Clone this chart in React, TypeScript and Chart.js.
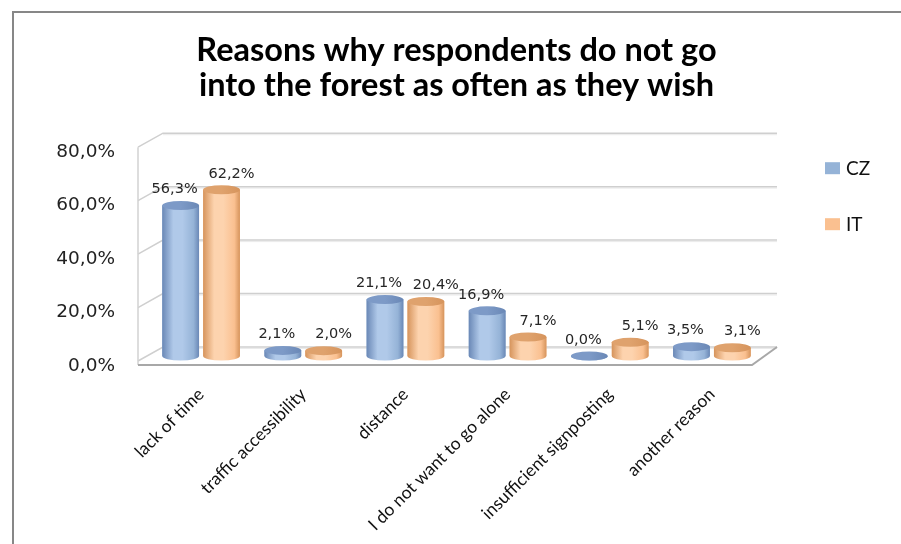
import React, { useEffect, useRef } from 'react';
import { Chart, registerables } from 'chart.js';

Chart.register(...registerables);

const titleLines = ['Reasons why respondents do not go', 'into the forest as often as they wish'];
const categories = [
  'lack of time',
  'traffic accessibility',
  'distance',
  'I do not want to go alone',
  'insufficient signposting',
  'another reason',
];
const seriesNames = ['CZ', 'IT'];
const czValues = [56.3, 2.1, 21.1, 16.9, 0.0, 3.5];
const itValues = [62.2, 2.0, 20.4, 7.1, 5.1, 3.1];
const yMin = 0;
const yMax = 80;
const yStep = 20;

const palette = [
  { base: '#95b3d7', light: '#b0c9e9', dark: '#6a88b6', top: '#7d9ac7' },
  { base: '#fac090', light: '#fdd3ae', dark: '#d6945c', top: '#dfa26d' },
];

const fmt = (v: number) => v.toFixed(1).replace('.', ',') + '%';

const outerFrame = {
  id: 'outerFrame',
  beforeDraw(chart: any) {
    const { ctx, width, height } = chart;
    ctx.save();
    ctx.fillStyle = '#ffffff';
    ctx.fillRect(0, 0, width, height);
    ctx.strokeStyle = '#878787';
    ctx.lineWidth = 2;
    ctx.beginPath();
    ctx.moveTo(13, height + 5);
    ctx.lineTo(13, 12);
    ctx.lineTo(width + 5, 12);
    ctx.stroke();
    ctx.restore();
  },
};

const frame3d = {
  id: 'frame3d',
  beforeDatasetsDraw(chart: any) {
    const { ctx, chartArea: ca, scales } = chart;
    const ys = scales.y;
    const backL = ca.left + 13;
    const backR = ca.right + 14;
    const frontL = ca.left - 12;
    const depthDy = 14;
    ctx.save();
    const ticks = ys.ticks.map((t: any) => t.value);
    ticks.forEach((v: number) => {
      const yb = ys.getPixelForValue(v) - 9;
      ctx.strokeStyle = '#ebebeb';
      ctx.lineWidth = 1;
      ctx.beginPath();
      ctx.moveTo(backL, yb + 1.5);
      ctx.lineTo(backR, yb + 1.5);
      ctx.stroke();
      ctx.strokeStyle = '#cfcfcf';
      ctx.lineWidth = 1.5;
      ctx.beginPath();
      ctx.moveTo(frontL, yb + depthDy);
      ctx.lineTo(backL, yb);
      ctx.lineTo(backR, yb);
      ctx.stroke();
    });
    const yTop = ys.getPixelForValue(yMax) - 9 + depthDy;
    const yFloorFront = ca.bottom + 9;
    ctx.strokeStyle = '#d2d2d2';
    ctx.lineWidth = 1.5;
    ctx.beginPath();
    ctx.moveTo(frontL, yTop);
    ctx.lineTo(frontL, yFloorFront);
    ctx.stroke();
    const yBack0 = ys.getPixelForValue(0) - 9;
    ctx.strokeStyle = '#a8a8a8';
    ctx.lineWidth = 2;
    ctx.beginPath();
    ctx.moveTo(frontL, yFloorFront);
    ctx.lineTo(ca.right - 11, yFloorFront);
    ctx.lineTo(backR, yBack0);
    ctx.stroke();
    ctx.restore();
  },
};

const cylinders = {
  id: 'cylinders',
  afterDatasetsDraw(chart: any) {
    const { ctx } = chart;
    const ry = 4.5;
    ctx.save();
    chart.data.datasets.forEach((_ds: any, di: number) => {
      const meta = chart.getDatasetMeta(di);
      const c = palette[di];
      meta.data.forEach((el: any) => {
        const { x, y, base, width } = el.getProps(['x', 'y', 'base', 'width'], true);
        const l = x - width / 2;
        const r = x + width / 2;
        const g = ctx.createLinearGradient(l, 0, r, 0);
        g.addColorStop(0, c.dark);
        g.addColorStop(0.3, c.light);
        g.addColorStop(0.55, c.light);
        g.addColorStop(0.85, c.base);
        g.addColorStop(1, c.dark);
        ctx.fillStyle = g;
        ctx.beginPath();
        ctx.moveTo(l, y);
        ctx.lineTo(l, base);
        ctx.ellipse(x, base, width / 2, ry, 0, Math.PI, 0, true);
        ctx.lineTo(r, y);
        ctx.closePath();
        ctx.fill();
        const gt = ctx.createLinearGradient(l, 0, r, 0);
        gt.addColorStop(0, c.top);
        gt.addColorStop(0.5, c.top);
        gt.addColorStop(1, c.dark);
        ctx.fillStyle = gt;
        ctx.beginPath();
        ctx.ellipse(x, y, width / 2, ry, 0, 0, Math.PI * 2);
        ctx.fill();
      });
    });
    ctx.font = '14.5px "DejaVu Sans"';
    ctx.fillStyle = '#262626';
    ctx.textAlign = 'center';
    ctx.textBaseline = 'middle';
    chart.data.datasets.forEach((ds: any, di: number) => {
      const meta = chart.getDatasetMeta(di);
      meta.data.forEach((el: any, i: number) => {
        const { x, y } = el.getProps(['x', 'y'], true);
        const dx = di === 0 ? -6 : 10;
        ctx.fillText(fmt(ds.data[i]), x + dx, y - 16);
      });
    });
    ctx.restore();
  },
};

const sideLegend = {
  id: 'sideLegend',
  afterDraw(chart: any) {
    const { ctx, chartArea: ca } = chart;
    ctx.save();
    ctx.font = '19px Lato';
    ctx.textBaseline = 'middle';
    ctx.textAlign = 'left';
    chart.data.datasets.forEach((ds: any, i: number) => {
      const bx = ca.right + 62;
      const by = ca.top + 20 + i * 56;
      ctx.fillStyle = ds.backgroundColor;
      ctx.fillRect(bx, by, 15, 12);
      ctx.fillStyle = '#111';
      ctx.fillText(ds.label, bx + 21, by + 6.5);
    });
    ctx.restore();
  },
};

export default function App() {
  const ref = useRef<HTMLCanvasElement | null>(null);
  useEffect(() => {
    if (!ref.current) return;
    const chart = new Chart(ref.current, {
      type: 'bar',
      data: {
        labels: categories,
        datasets: [
          { label: seriesNames[0], data: czValues, backgroundColor: palette[0].base, borderWidth: 0 },
          { label: seriesNames[1], data: itValues, backgroundColor: palette[1].base, borderWidth: 0 },
        ],
      },
      options: {
        animation: false,
        responsive: false,
        devicePixelRatio: 1,
        layout: { padding: { left: 0, right: 138, top: 0, bottom: 0 } },
        plugins: {
          legend: { display: false },
          tooltip: { enabled: false },
          title: {
            display: true,
            text: titleLines,
            fullSize: false,
            color: '#000',
            font: { family: 'Lato', weight: 'bold', size: 32.5, lineHeight: 1.08 },
            padding: { top: 33, bottom: 39 },
          },
        },
        scales: {
          x: {
            grid: { display: false, drawTicks: false },
            border: { display: false },
            categoryPercentage: 0.58,
            barPercentage: 1,
            ticks: {
              maxRotation: 45,
              minRotation: 45,
              autoSkip: false,
              padding: 28,
              color: '#111',
              font: { family: 'Lato', size: 17.5 },
            },
            afterFit: (s: any) => {
              s.height = 188;
            },
          },
          y: {
            min: yMin,
            max: yMax,
            grid: { display: false, drawTicks: false },
            border: { display: false },
            ticks: {
              stepSize: yStep,
              padding: 35,
              labelOffset: 10,
              color: '#222',
              font: { family: 'DejaVu Sans', size: 18.5 },
              callback: (v: any) => fmt(Number(v)),
            },
            afterFit: (s: any) => {
              s.width = 150;
            },
          },
        },
      } as any,
      plugins: [outerFrame, frame3d, cylinders, sideLegend],
    });
    return () => chart.destroy();
  }, []);

  return (
    <div style={{ position: 'fixed', left: 0, top: 0, width: 901, height: 544, background: '#fff' }}>
      <canvas ref={ref} width={901} height={544} style={{ display: 'block' }} />
    </div>
  );
}
